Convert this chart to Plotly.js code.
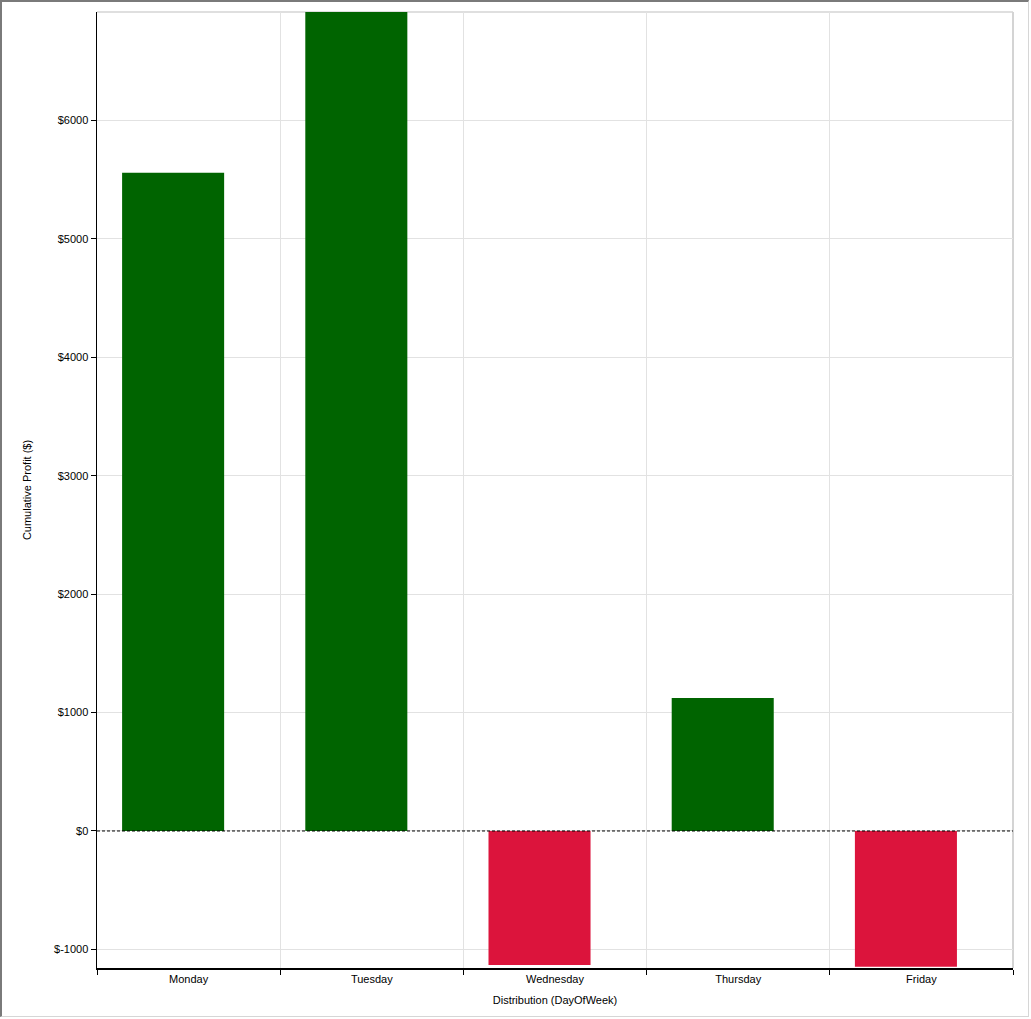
<!DOCTYPE html>
<html>
<head>
<meta charset="utf-8">
<script src="https://cdn.plot.ly/plotly-3.0.1.min.js"></script>
<style>
  html, body { margin: 0; padding: 0; background: #ffffff; overflow: hidden; }
  #wrap { position: relative; width: 1031px; height: 1019px; }
  #chart { position: absolute; left: 0; top: 0; width: 1031px; height: 1019px; }
  #frame { position: absolute; left: 0; top: 0; width: 1029px; height: 1017px;
           border-top: 2px solid #7a7a7a; border-left: 2px solid #7a7a7a;
           border-right: 1px solid #d6d6d6; border-bottom: 1px solid #d6d6d6;
           box-sizing: border-box; pointer-events: none; }
</style>
</head>
<body>
<div id="wrap">
  <div id="chart"></div>
  <div id="frame"></div>
</div>
<script>
// ---- data ----
const days = ["Monday", "Tuesday", "Wednesday", "Thursday", "Friday"];
const profit = [5557, 6915, -1132, 1123, -1146];
const yTickValues = [-1000, 0, 1000, 2000, 3000, 4000, 5000, 6000];
const yTickLabels = yTickValues.map(v => "$" + v);
const posColor = "#006400";
const negColor = "#DC143C";

const barColors = profit.map(v => v >= 0 ? posColor : negColor);

const font = { family: "Liberation Sans, Arial, sans-serif", size: 11, color: "#000000" };

const trace = {
  type: "bar",
  x: days,
  y: profit,
  width: 0.557,
  offset: -0.363,
  marker: { color: barColors, line: { width: 0 } },
  hoverinfo: "x+y"
};

const layout = {
  width: 1031,
  height: 1019,
  margin: { l: 97, r: 18, t: 12, b: 51 },
  paper_bgcolor: "#ffffff",
  plot_bgcolor: "#ffffff",
  font: font,
  showlegend: false,
  xaxis: {
    type: "category",
    tickson: "boundaries",
    ticks: "outside",
    ticklen: 5,
    tickcolor: "#000000",
    showline: true,
    linecolor: "#000000",
    linewidth: 1.5,
    showgrid: true,
    gridcolor: "#e2e2e2",
    gridwidth: 1,
    tickfont: font,
    fixedrange: true,
    title: { text: "Distribution (DayOfWeek)", font: font, standoff: 12 },
    automargin: false
  },
  yaxis: {
    range: [-1157, 6915],
    tickvals: yTickValues,
    ticktext: yTickLabels,
    ticks: "outside",
    ticklen: 5,
    tickcolor: "#000000",
    showline: true,
    linecolor: "#000000",
    linewidth: 1.5,
    showgrid: true,
    gridcolor: "#e2e2e2",
    gridwidth: 1,
    zeroline: false,
    tickfont: font,
    fixedrange: true,
    title: { text: "Cumulative Profit ($)", font: font, standoff: 20 },
    automargin: false
  },
  shapes: [
    { type: "line", xref: "paper", yref: "y", x0: 0, x1: 1, y0: 0, y1: 0,
      line: { color: "#000000", width: 1, dash: "3px,2px" }, layer: "above" },
    { type: "line", xref: "paper", yref: "paper", x0: 0, x1: 1, y0: 1, y1: 1,
      line: { color: "#d4d4d4", width: 1.5 }, layer: "below" },
    { type: "line", xref: "paper", yref: "paper", x0: 1, x1: 1, y0: 0, y1: 1,
      line: { color: "#d4d4d4", width: 2 }, layer: "below" }
  ]
};

Plotly.newPlot("chart", [trace], layout, { displayModeBar: false, staticPlot: true });
</script>
</body>
</html>
